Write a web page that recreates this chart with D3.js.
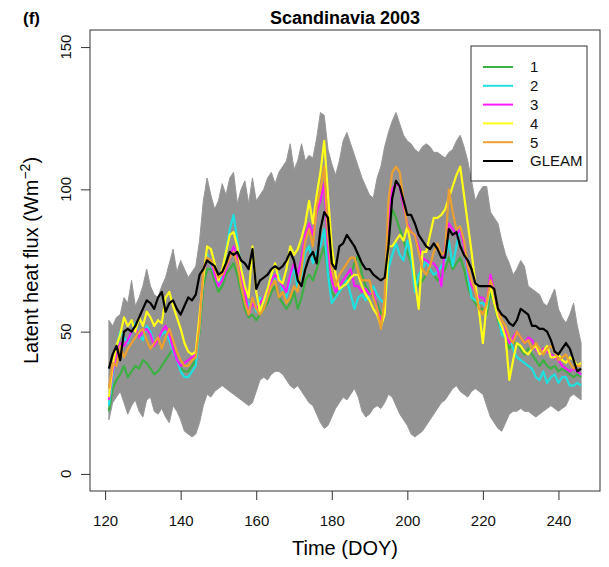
<!DOCTYPE html>
<html>
<head>
<meta charset="utf-8">
<script src="https://cdn.jsdelivr.net/npm/d3@7"></script>
<style>
  body { margin: 0; background: #fff; }
  svg { font-family: "Liberation Sans", Arial, sans-serif; }
</style>
</head>
<body>
<svg id="chart" width="609" height="567"></svg>
<script>
// day of year, 121..246
var days = d3.range(121, 247);

var gleam = [37,42,45,40,50,51,50,52,55,58,
  61,60,58,62,64,57,60,61,58,56,
  59,62,61,63,70,72,75,74,73,70,
  71,74,78,77,78,75,74,72,79,65,
  68,69,70,72,73,72,73,75,78,75,
  68,66,72,76,78,74,86,92,90,74,
  72,80,81,84,82,80,77,74,72,72,
  70,69,68,69,80,97,103,101,96,91,
  91,88,84,82,80,79,81,79,76,76,
  86,84,85,80,77,75,72,67,66,66,
  66,66,65,58,56,55,53,52,54,58,
  57,56,52,52,51,51,50,47,43,42,
  44,46,44,40,36,37];

var run1 = [22,30,33,35,38,34,36,38,37,40,
  39,37,35,36,38,40,42,44,40,37,
  36,36,38,40,50,66,72,72,68,64,
  66,70,72,74,70,64,58,55,56,54,
  56,58,60,64,66,62,60,58,60,64,
  58,62,68,70,68,72,76,80,70,64,
  62,64,66,68,70,74,77,70,66,64,
  62,60,56,58,82,93,90,86,82,78,
  74,70,66,68,70,72,70,68,70,72,
  76,72,74,76,72,66,62,60,58,58,
  56,64,60,54,50,48,44,46,46,44,
  42,44,42,40,38,40,38,37,38,36,
  37,36,35,34,35,34];

var run2 = [24,34,44,50,48,46,50,53,49,47,
  52,50,46,47,49,50,47,43,40,36,
  34,34,36,38,52,70,77,74,70,66,
  70,78,86,91,82,72,64,59,61,57,
  62,60,64,70,68,70,64,62,68,73,
  65,70,78,80,74,78,80,86,70,60,
  62,64,66,68,63,58,62,63,61,63,
  66,63,61,60,72,77,81,77,75,82,
  76,64,70,72,75,72,70,71,73,75,
  82,73,80,87,80,70,62,61,60,60,
  58,67,62,56,49,48,48,44,41,40,
  39,38,37,34,33,36,32,34,35,32,
  34,34,31,31,32,31];

var run3 = [26,36,42,46,45,47,50,52,48,50,
  51,49,45,47,50,52,49,44,40,38,
  39,40,41,42,55,70,76,75,70,66,
  68,72,76,80,76,70,64,56,60,58,
  60,62,64,68,70,68,66,64,70,74,
  70,76,84,88,84,92,96,102,80,68,
  64,66,68,70,72,66,66,64,65,63,
  64,58,54,56,88,100,102,101,94,88,
  85,84,80,76,75,74,74,72,66,80,
  88,86,84,86,80,72,66,64,62,62,
  60,70,64,56,52,50,46,48,50,48,
  46,48,47,44,42,44,43,42,41,40,
  38,37,36,37,36,35];

var run4 = [27,38,45,49,55,52,54,50,55,52,
  57,55,52,54,53,62,64,59,55,51,
  46,43,42,43,56,69,80,79,74,68,
  72,78,84,85,80,72,66,62,80,64,
  57,61,65,70,74,68,67,72,80,77,
  79,83,88,96,88,98,106,117,98,80,
  70,65,66,67,69,70,70,66,63,61,
  58,56,52,56,80,80,82,84,82,87,
  80,68,58,78,78,84,90,90,91,93,
  97,101,105,108,98,88,78,67,57,46,
  60,66,60,55,52,48,33,40,46,45,
  43,42,44,45,42,43,45,41,41,42,
  40,39,41,40,38,39];

var run5 = [30,39,38,45,41,44,46,48,50,51,
  47,44,46,48,44,48,51,47,43,40,
  38,38,40,41,52,72,76,75,72,69,
  70,73,76,78,74,66,60,56,62,58,
  56,58,62,66,68,62,64,60,62,66,
  64,72,82,86,80,94,100,108,84,72,
  66,70,72,74,76,76,71,68,68,68,
  62,58,51,62,96,106,108,106,96,87,
  85,84,78,72,70,73,78,81,77,78,
  100,92,86,87,82,73,68,64,58,56,
  60,68,64,58,54,52,48,46,50,48,
  46,47,44,46,44,42,44,45,43,40,
  41,42,39,37,38,38];

// spread of the grey ensemble members
var ensHigh = [54,52,55,56,62,60,68,59,62,66,
  72,66,63,62,66,69,74,79,71,75,
  72,69,71,73,82,96,104,98,93,96,
  102,98,104,106,95,100,103,95,104,96,
  98,100,104,106,102,106,108,110,116,107,
  110,116,110,112,111,118,127,126,114,109,
  105,110,117,120,116,112,108,104,101,98,
  97,104,108,115,120,124,127,123,119,117,
  116,114,113,115,116,115,113,113,112,111,
  113,114,117,119,115,110,103,96,99,101,
  101,92,90,88,82,77,74,70,72,75,
  73,66,65,64,63,60,59,62,65,58,
  55,53,56,60,52,46];

var ensLow = [19,25,27,29,25,21,24,26,22,20,
  26,27,22,21,23,20,18,24,22,19,
  15,14,13,14,18,24,28,27,29,30,
  31,30,29,28,27,26,25,24,25,29,
  33,34,33,35,36,36,35,33,31,30,
  31,29,27,25,24,21,18,16,17,20,
  23,25,27,26,28,30,27,22,20,21,
  23,24,23,25,28,27,24,21,19,17,
  14,13,14,15,17,19,21,23,25,26,
  28,30,31,29,28,27,29,30,29,28,
  24,20,18,16,15,18,21,22,22,23,
  22,22,21,20,21,22,23,24,23,22,
  23,24,27,28,27,26];

var xTicks = [120, 140, 160, 180, 200, 220, 240];
var yTicks = [0, 50, 100, 150];
var runNames = ["1", "2", "3", "4", "5", "GLEAM"];
var runColors = ["#3cb043", "#1fe0e0", "#ff1aff", "#ffff1a", "#eca030", "#000000"];

var svg = d3.select("#chart");
var mLeft = 90, mRight = 600, mTop = 30, mBottom = 491;

var x = d3.scaleLinear().domain([116, 251]).range([mLeft, mRight]);
var y = d3.scaleLinear().domain([-6, 156]).range([mBottom, mTop]);

// grey ensemble band
var band = d3.area()
    .x(function(d, i) { return x(days[i]); })
    .y0(function(d, i) { return y(ensLow[i]); })
    .y1(function(d) { return y(d); });

svg.append("path")
    .datum(ensHigh)
    .attr("d", band)
    .attr("fill", "#929292")
    .attr("stroke", "#979797")
    .attr("stroke-width", 1)
    .attr("stroke-linejoin", "round");

var line = d3.line()
    .x(function(d, i) { return x(days[i]); })
    .y(function(d) { return y(d); });

var runs = [run1, run2, run3, run4, run5, gleam];
runs.forEach(function(r, k) {
    svg.append("path")
        .datum(r)
        .attr("d", line)
        .attr("fill", "none")
        .attr("stroke", runColors[k])
        .attr("stroke-width", 2.2)
        .attr("stroke-linejoin", "round");
});

// box
svg.append("rect")
    .attr("x", mLeft).attr("y", mTop)
    .attr("width", mRight - mLeft).attr("height", mBottom - mTop)
    .attr("fill", "none").attr("stroke", "#333").attr("stroke-width", 1);

// x axis
var gx = svg.append("g")
    .attr("transform", "translate(0," + mBottom + ")")
    .call(d3.axisBottom(x).tickValues(xTicks).tickSize(9).tickPadding(15));
gx.select(".domain").remove();
gx.selectAll("line").attr("stroke", "#333");
gx.selectAll("text").attr("font-size", 15).attr("fill", "#111")
    .attr("font-family", "Liberation Sans, Arial, sans-serif");

// y axis, labels turned like R
var gy = svg.append("g")
    .attr("transform", "translate(" + mLeft + ",0)")
    .call(d3.axisLeft(y).tickValues(yTicks).tickSize(9).tickFormat(""));
gy.select(".domain").remove();
gy.selectAll("line").attr("stroke", "#333");

svg.selectAll(".ylab")
    .data(yTicks)
    .enter()
    .append("text")
    .attr("class", "ylab")
    .attr("transform", function(d) { return "translate(71," + y(d) + ") rotate(-90)"; })
    .attr("text-anchor", "middle")
    .attr("font-size", 15)
    .attr("fill", "#111")
    .text(function(d) { return d; });

// titles
svg.append("text")
    .attr("x", (mLeft + mRight) / 2).attr("y", 24)
    .attr("text-anchor", "middle")
    .attr("font-size", 18).attr("font-weight", "bold")
    .text("Scandinavia 2003");

svg.append("text")
    .attr("x", 23).attr("y", 24)
    .attr("font-size", 17).attr("font-weight", "bold")
    .text("(f)");

svg.append("text")
    .attr("x", (mLeft + mRight) / 2).attr("y", 555)
    .attr("text-anchor", "middle")
    .attr("font-size", 20)
    .text("Time (DOY)");

var yl = svg.append("text")
    .attr("transform", "translate(38," + ((mTop + mBottom) / 2) + ") rotate(-90)")
    .attr("text-anchor", "middle")
    .attr("font-size", 20);
yl.append("tspan").text("Latent heat flux (Wm");
yl.append("tspan").attr("font-size", 14).attr("dy", -8).text("\u22122");
yl.append("tspan").attr("dy", 8).text(")");

// legend
var lg = svg.append("g");
lg.append("rect")
    .attr("x", 471).attr("y", 46)
    .attr("width", 116).attr("height", 135)
    .attr("fill", "#fff").attr("stroke", "#333").attr("stroke-width", 1);

var rowY = d3.scalePoint().domain(runNames).range([67, 161]);
runNames.forEach(function(n, k) {
    lg.append("line")
        .attr("x1", 483).attr("x2", 513)
        .attr("y1", rowY(n)).attr("y2", rowY(n))
        .attr("stroke", runColors[k]).attr("stroke-width", 2);
    lg.append("text")
        .attr("x", 530).attr("y", rowY(n))
        .attr("dy", "0.36em")
        .attr("font-size", 15)
        .attr("fill", "#111")
        .text(n);
});
</script>
</body>
</html>
